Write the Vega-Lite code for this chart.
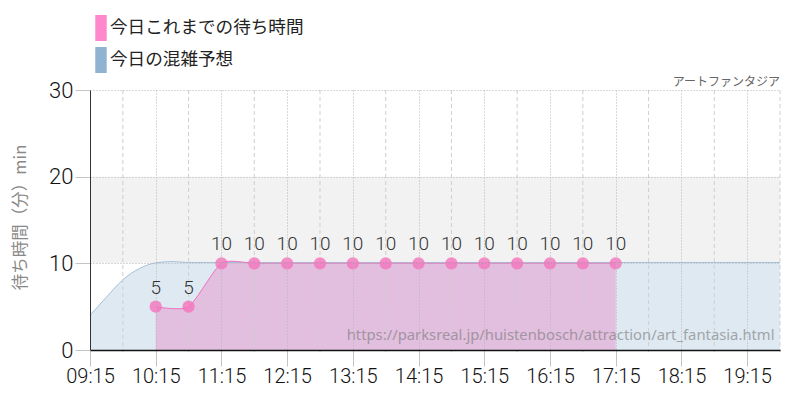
{
"$schema":"https://vega.github.io/schema/vega-lite/v6.json",
"width":690,"height":260,
"autosize":{"type":"none"},
"padding":{"left":90,"top":90,"right":20,"bottom":50},
"background":"white",
"config":{"view":{"stroke":null},"font":"Noto Sans CJK JP"},
"datasets":{
"band":[{"start":"2024-01-01T09:15:00","end":"2024-01-01T19:45:00","low":10,"high":20}],
"half":[{"t":"2024-01-01T09:45:00"},{"t":"2024-01-01T10:45:00"},{"t":"2024-01-01T11:45:00"},{"t":"2024-01-01T12:45:00"},{"t":"2024-01-01T13:45:00"},{"t":"2024-01-01T14:45:00"},{"t":"2024-01-01T15:45:00"},{"t":"2024-01-01T16:45:00"},{"t":"2024-01-01T17:45:00"},{"t":"2024-01-01T18:45:00"},{"t":"2024-01-01T19:45:00"}],
"forecast":[{"t":"2024-01-01T09:15:00","v":4},{"t":"2024-01-01T09:30:00","v":6.1},{"t":"2024-01-01T09:45:00","v":8.1},{"t":"2024-01-01T10:00:00","v":9.4},{"t":"2024-01-01T10:15:00","v":10.05},{"t":"2024-01-01T10:30:00","v":10.2},{"t":"2024-01-01T10:45:00","v":10.1},{"t":"2024-01-01T11:15:00","v":10.1},{"t":"2024-01-01T19:45:00","v":10.1}],
"actual":[{"t":"2024-01-01T10:15:00","v":5},{"t":"2024-01-01T10:45:00","v":5},{"t":"2024-01-01T11:15:00","v":10},{"t":"2024-01-01T11:45:00","v":10},{"t":"2024-01-01T12:15:00","v":10},{"t":"2024-01-01T12:45:00","v":10},{"t":"2024-01-01T13:15:00","v":10},{"t":"2024-01-01T13:45:00","v":10},{"t":"2024-01-01T14:15:00","v":10},{"t":"2024-01-01T14:45:00","v":10},{"t":"2024-01-01T15:15:00","v":10},{"t":"2024-01-01T15:45:00","v":10},{"t":"2024-01-01T16:15:00","v":10},{"t":"2024-01-01T16:45:00","v":10},{"t":"2024-01-01T17:15:00","v":10}],
"legendrows":[{"t":"2024-01-01T10:15:00","v":5,"series":"今日これまでの待ち時間"},{"t":"2024-01-01T10:15:00","v":5,"series":"今日の混雑予想"}],
"url":[{"t":"2024-01-01T19:40:00","v":1.6,"label":"https://parksreal.jp/huistenbosch/attraction/art_fantasia.html"}],
"name":[{"t":"2024-01-01T19:45:00","v":30,"label":"アートファンタジア"}]
},
"encoding":{
"x":{"field":"t","type":"temporal","scale":{"domain":["2024-01-01T09:15:00","2024-01-01T19:45:00"]},"title":null,
"axis":{"values":["2024-01-01T09:15:00","2024-01-01T10:15:00","2024-01-01T11:15:00","2024-01-01T12:15:00","2024-01-01T13:15:00","2024-01-01T14:15:00","2024-01-01T15:15:00","2024-01-01T16:15:00","2024-01-01T17:15:00","2024-01-01T18:15:00","2024-01-01T19:15:00"],"format":"%H:%M","labelFont":"Roboto","labelFontWeight":300,"labelFontSize":20,"labelColor":"#111","labelPadding":0,"tickSize":16,"tickColor":"#c4c4c4","tickWidth":1,"grid":true,"gridColor":"#b5b5b5","gridDash":[1,2],"gridWidth":1,"domainColor":"#111","domainWidth":1.5,"labelFlush":false,"labelOverlap":false,"zindex":1}},
"y":{"field":"v","type":"quantitative","scale":{"domain":[0,30]},"title":"待ち時間（分）min",
"axis":{"values":[0,10,20,30],"labelFont":"Roboto","labelFontWeight":300,"labelFontSize":22,"labelColor":"#111","labelPadding":2,"tickSize":15,"tickColor":"#c4c4c4","tickWidth":1,"grid":true,"gridColor":"#b5b5b5","gridDash":[1,2],"gridWidth":1,"domainColor":"#333","domainWidth":1,"titleColor":"#888","titleFontSize":16.5,"titleFontWeight":"normal","titleX":-62,"titleY":127,"zindex":1}}
},
"layer":[
{"data":{"name":"band"},"mark":{"type":"rect","fill":"#f2f2f2"},"encoding":{"x":{"field":"start","type":"temporal"},"x2":{"field":"end"},"y":{"field":"low","type":"quantitative"},"y2":{"field":"high"}}},
{"data":{"name":"forecast"},"mark":{"type":"area","interpolate":"monotone","fill":"#dfe9f2"}},
{"data":{"name":"actual"},"mark":{"type":"area","interpolate":"cardinal","tension":0.35,"fill":"#e2bfdf"}},
{"data":{"name":"forecast"},"mark":{"type":"line","interpolate":"monotone","stroke":"#a5c0d8","strokeWidth":1}},
{"data":{"name":"half"},"mark":{"type":"rule","stroke":"#cfcfcf","strokeDash":[4,3],"strokeWidth":1},"encoding":{"y":{"value":0},"y2":{"value":262},"x":{"field":"t","type":"temporal"}}},
{"data":{"name":"actual"},"mark":{"type":"line","interpolate":"cardinal","tension":0.35,"stroke":"#f070c0","strokeWidth":1}},
{"data":{"name":"actual"},"mark":{"type":"point","filled":true,"size":150,"fill":"#f573bd","opacity":0.8}},
{"data":{"name":"actual"},"mark":{"type":"text","dy":-19,"fontSize":19,"font":"Roboto","fontWeight":300,"fill":"#333"},"encoding":{"text":{"field":"v","type":"quantitative"}}},
{"data":{"name":"url"},"mark":{"type":"text","align":"right","baseline":"middle","fontSize":14.8,"font":"Noto Sans","fill":"#777","opacity":0.6},"encoding":{"text":{"field":"label"}}},
{"data":{"name":"name"},"mark":{"type":"text","align":"right","baseline":"bottom","dy":-1,"fontSize":12,"font":"Noto Sans CJK JP","fill":"#666"},"encoding":{"text":{"field":"label"}}},
{"data":{"name":"legendrows"},"mark":{"type":"point","filled":true,"opacity":0},"encoding":{"fill":{"field":"series","type":"nominal","sort":null,"scale":{"domain":["今日これまでの待ち時間","今日の混雑予想"],"range":["#ff88cc","#90b3d2"]},
"legend":{"title":null,"orient":"none","legendX":-2,"legendY":-75,"padding":0,"symbolType":"M-0.44,-1H0.44V1H-0.44Z","symbolSize":676,"symbolOpacity":1,"symbolStrokeWidth":0,"rowPadding":6,"labelFontSize":17.6,"labelColor":"#222","labelFont":"Noto Sans CJK JP","labelOffset":-4,"labelLimit":300}}}}
]
}
